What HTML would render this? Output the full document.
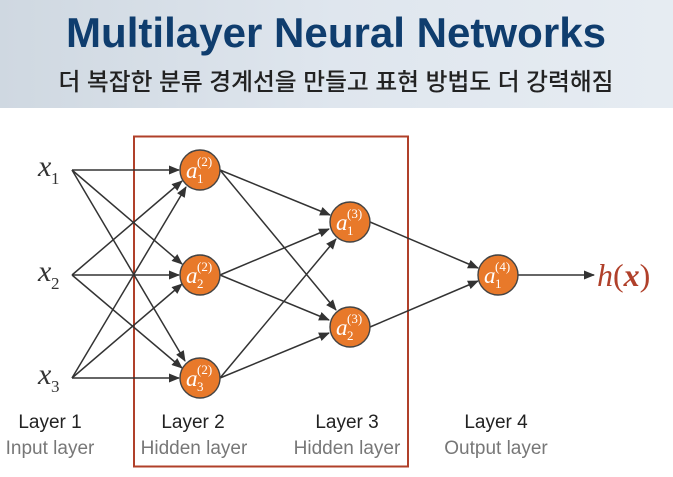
<!DOCTYPE html>
<html><head><meta charset="utf-8"><style>
html,body{margin:0;padding:0;background:#fff;}
body{width:673px;height:477px;overflow:hidden;position:relative;}
.hdr{position:absolute;left:0;top:0;width:673px;height:108px;background:linear-gradient(90deg,#cfd8e1,#dfe6ee 50%,#e6ecf2);}
</style></head><body>
<div class="hdr"></div>
<svg width="673" height="477" style="position:absolute;left:0;top:0" xmlns="http://www.w3.org/2000/svg">
<defs><marker id="ar" markerWidth="11" markerHeight="9" refX="10" refY="4.5" orient="auto" markerUnits="userSpaceOnUse"><path d="M0,0 L11,4.5 L0,9 z" fill="#333"/></marker></defs>
<text x="336" y="47" text-anchor="middle" font-family="Liberation Sans Narrow, Liberation Sans, sans-serif" font-weight="bold" font-size="42" fill="#0f3d6e" textLength="540" lengthAdjust="spacingAndGlyphs">Multilayer Neural Networks</text>
<text x="336" y="90" text-anchor="middle" font-family="Liberation Sans, 'Noto Sans CJK KR', sans-serif" font-weight="500" font-size="24" fill="#222" textLength="555" lengthAdjust="spacingAndGlyphs">더 복잡한 분류 경계선을 만들고 표현 방법도 더 강력해짐</text>
<rect x="134" y="136.5" width="274" height="330" fill="none" stroke="#b0402a" stroke-width="2"/>
<g stroke="#333" stroke-width="1.5" marker-end="url(#ar)" fill="none">
<line x1="72" y1="170" x2="179" y2="170"/><line x1="72" y1="170" x2="182" y2="264"/><line x1="72" y1="170" x2="185" y2="361"/>
<line x1="72" y1="275" x2="182" y2="181"/><line x1="72" y1="275" x2="179" y2="275"/><line x1="72" y1="275" x2="182" y2="368"/>
<line x1="72" y1="378" x2="186" y2="187"/><line x1="72" y1="378" x2="182" y2="284"/><line x1="72" y1="378" x2="179" y2="378"/>
<line x1="220" y1="170" x2="330" y2="215"/><line x1="220" y1="170" x2="336" y2="310"/>
<line x1="220" y1="275" x2="329" y2="229"/><line x1="220" y1="275" x2="329" y2="320"/>
<line x1="220" y1="378" x2="336" y2="239"/><line x1="220" y1="378" x2="329" y2="333"/>
<line x1="370" y1="222" x2="478" y2="268"/><line x1="370" y1="327" x2="478" y2="281"/>
<line x1="518" y1="275" x2="594" y2="275"/>
</g>
<g fill="#e8792a" stroke="#444" stroke-width="1.4">
<circle cx="200" cy="170" r="20"/><circle cx="200" cy="275" r="20"/><circle cx="200" cy="378" r="20"/>
<circle cx="350" cy="222" r="20"/><circle cx="350" cy="327" r="20"/><circle cx="498" cy="275" r="20"/>
</g>
<g font-family="Liberation Serif, serif" fill="#fff" font-style="italic">
<g transform="translate(200,170)"><text x="-14" y="8" font-size="23">a</text><text x="-3" y="13" font-size="13" font-style="normal">1</text><text x="-3" y="-4" font-size="13" font-style="normal">(2)</text></g>
<g transform="translate(200,275)"><text x="-14" y="8" font-size="23">a</text><text x="-3" y="13" font-size="13" font-style="normal">2</text><text x="-3" y="-4" font-size="13" font-style="normal">(2)</text></g>
<g transform="translate(200,378)"><text x="-14" y="8" font-size="23">a</text><text x="-3" y="13" font-size="13" font-style="normal">3</text><text x="-3" y="-4" font-size="13" font-style="normal">(2)</text></g>
<g transform="translate(350,222)"><text x="-14" y="8" font-size="23">a</text><text x="-3" y="13" font-size="13" font-style="normal">1</text><text x="-3" y="-4" font-size="13" font-style="normal">(3)</text></g>
<g transform="translate(350,327)"><text x="-14" y="8" font-size="23">a</text><text x="-3" y="13" font-size="13" font-style="normal">2</text><text x="-3" y="-4" font-size="13" font-style="normal">(3)</text></g>
<g transform="translate(498,275)"><text x="-14" y="8" font-size="23">a</text><text x="-3" y="13" font-size="13" font-style="normal">1</text><text x="-3" y="-4" font-size="13" font-style="normal">(4)</text></g>
</g>
<g font-family="Liberation Serif, serif" fill="#333">
<text x="38" y="176" font-size="30" font-style="italic">x</text><text x="51" y="184" font-size="17">1</text>
<text x="38" y="281" font-size="30" font-style="italic">x</text><text x="51" y="289" font-size="17">2</text>
<text x="38" y="384" font-size="30" font-style="italic">x</text><text x="51" y="392" font-size="17">3</text>
</g>
<text x="597" y="286" font-family="Liberation Serif, serif" font-size="32" fill="#b0402a"><tspan font-style="italic">h</tspan>(<tspan font-style="italic" font-weight="bold">x</tspan>)</text>
<g font-family="Liberation Sans Narrow, Liberation Sans, sans-serif" font-size="19" text-anchor="middle">
<text x="50" y="428" fill="#222">Layer 1</text><text x="50" y="454" fill="#777">Input layer</text>
<text x="193" y="428" fill="#222">Layer 2</text><text x="194" y="454" fill="#777">Hidden layer</text>
<text x="347" y="428" fill="#222">Layer 3</text><text x="347" y="454" fill="#777">Hidden layer</text>
<text x="496" y="428" fill="#222">Layer 4</text><text x="496" y="454" fill="#777">Output layer</text>
</g>
</svg>
</body></html>
